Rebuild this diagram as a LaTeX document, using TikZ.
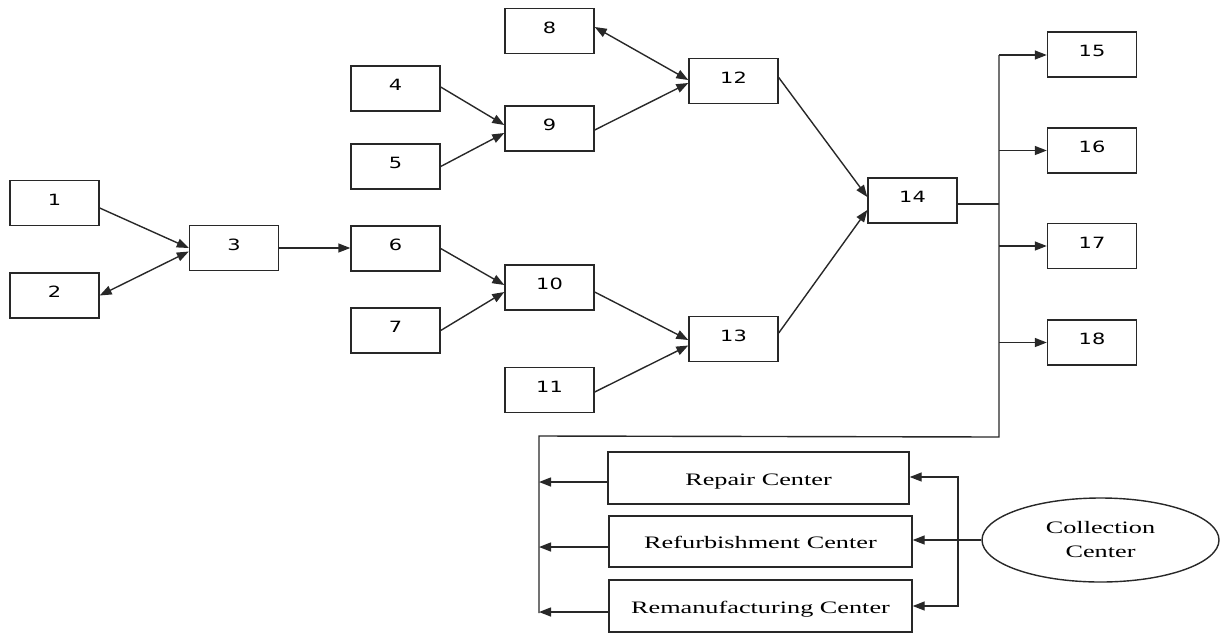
\documentclass[tikz,border=0pt]{standalone}
\usepackage{fontspec}
\usetikzlibrary{arrows.meta,shapes.geometric}
\newfontfamily\numfont[FakeStretch=1.35]{DejaVu Sans}
\newfontfamily\wserif[FakeStretch=1.5]{Liberation Serif}
\definecolor{ink}{RGB}{40,40,40}
\tikzset{
  numbox/.style={draw=ink, line width=1.4pt, minimum width=89pt, minimum height=45pt,
    inner sep=0pt, font=\numfont\fontsize{15.5}{18}\selectfont, text height=11pt, text depth=7pt},
  ctrbox/.style={draw=ink, line width=1.4pt, minimum height=52pt, inner sep=0pt,
    font=\wserif\fontsize{17.5}{21}\selectfont, text height=14.5pt, text depth=0pt},
  conn/.style={draw=ink, line width=1.4pt},
  arr/.style={conn, -{Triangle[length=12pt,width=9pt]}},
  darr/.style={conn, {Triangle[length=12pt,width=9pt]}-{Triangle[length=12pt,width=9pt]}},
}
\begin{document}
\begin{tikzpicture}[x=1pt,y=-1pt]
\useasboundingbox (0,0) rectangle (1221,633);
% number boxes
\node[numbox] (n1) at (54.5,203) {1};
\node[numbox] (n2) at (54.5,295.5) {2};
\node[numbox] (n3) at (234,248) {3};
\node[numbox] (n4) at (395.5,88.5) {4};
\node[numbox] (n5) at (395.5,166.5) {5};
\node[numbox] (n6) at (395.5,248.5) {6};
\node[numbox] (n7) at (395.5,330.5) {7};
\node[numbox] (n8) at (549.5,31) {8};
\node[numbox] (n9) at (549.5,128.5) {9};
\node[numbox] (n10) at (549.5,287.5) {10};
\node[numbox] (n11) at (549.5,390) {11};
\node[numbox] (n12) at (733.5,81) {12};
\node[numbox] (n13) at (733.5,339) {13};
\node[numbox] (n14) at (912.5,200.5) {14};
\node[numbox] (n15) at (1092,54.5) {15};
\node[numbox] (n16) at (1092,150.5) {16};
\node[numbox] (n17) at (1092,246) {17};
\node[numbox] (n18) at (1092,342.5) {18};
% centers
\node[ctrbox, minimum width=301pt] (rep) at (758.5,478) {Repair Center};
\node[ctrbox, minimum width=303pt, minimum height=51pt] (ref) at (760.5,541.5) {Refurbishment Center};
\node[ctrbox, minimum width=303pt] (rem) at (760.5,606) {Remanufacturing Center};
\node[ellipse, draw=ink, line width=1.4pt, minimum width=237pt, minimum height=84pt,
  inner sep=0pt, align=center, font=\wserif\fontsize{17.5}{24}\selectfont] (cc) at (1100.5,540) {Collection\\Center};
% connectors
\draw[arr] ([yshift=-5pt]n1.east) -- (n3.west);
\draw[darr] (n2.east) -- ([yshift=-3.5pt]n3.west);
\draw[arr] (n3.east) -- (n3.east -| n6.west);
\draw[arr] ([yshift=1.5pt]n4.east) -- ([yshift=3.5pt]n9.west);
\draw[arr] (n5.east) -- ([yshift=-4.5pt]n9.west);
\draw[arr] (n6.east) -- ([yshift=2.5pt]n10.west);
\draw[arr] (n7.east) -- ([yshift=-4.5pt]n10.west);
\draw[darr] ([yshift=4pt]n8.east) -- ([yshift=1pt]n12.west);
\draw[arr] ([yshift=-1.5pt]n9.east) -- ([yshift=-2pt]n12.west);
\draw[arr] ([yshift=-4.5pt]n10.east) -- ([yshift=-1pt]n13.west);
\draw[arr] ([yshift=-2pt]n11.east) -- ([yshift=-6.5pt]n13.west);
\draw[arr] ([yshift=3.5pt]n12.east) -- ([yshift=3.5pt]n14.west);
\draw[arr] ([yshift=6pt]n13.east) -- ([yshift=-9.5pt]n14.west);
% distribution trunk
\coordinate (tt) at (999,55);
\coordinate (tb) at (999,437);
\coordinate (lb) at (539,436);
\coordinate (le) at (539,613);
\draw[conn] ([yshift=-3.5pt]n14.east) coordinate (e14) -- (e14 -| tt);
\draw[conn] (tt) -- (tb) -- (lb) -- (le);
\draw[arr] (tt) -- (tt -| n15.west);
\draw[arr] (tt |- n16.west) -- (n16.west);
\draw[arr] (tt |- n17.west) -- (n17.west);
\draw[arr] (tt |- n18.west) -- (n18.west);
% return flows
\draw[arr] ([yshift=-4pt]rep.west) coordinate (a1) -- (a1 -| lb);
\draw[arr] ([yshift=-5.5pt]ref.west) coordinate (a2) -- (a2 -| lb);
\draw[arr] ([yshift=-6pt]rem.west) coordinate (a3) -- (a3 -| lb);
\coordinate (rb) at (958,540);
\draw[darr] ([yshift=1pt]rep.east) -| (rb) |- (rem.east);
\draw[arr] (cc.west) -- (cc.west -| ref.east);
\end{tikzpicture}
\end{document}
